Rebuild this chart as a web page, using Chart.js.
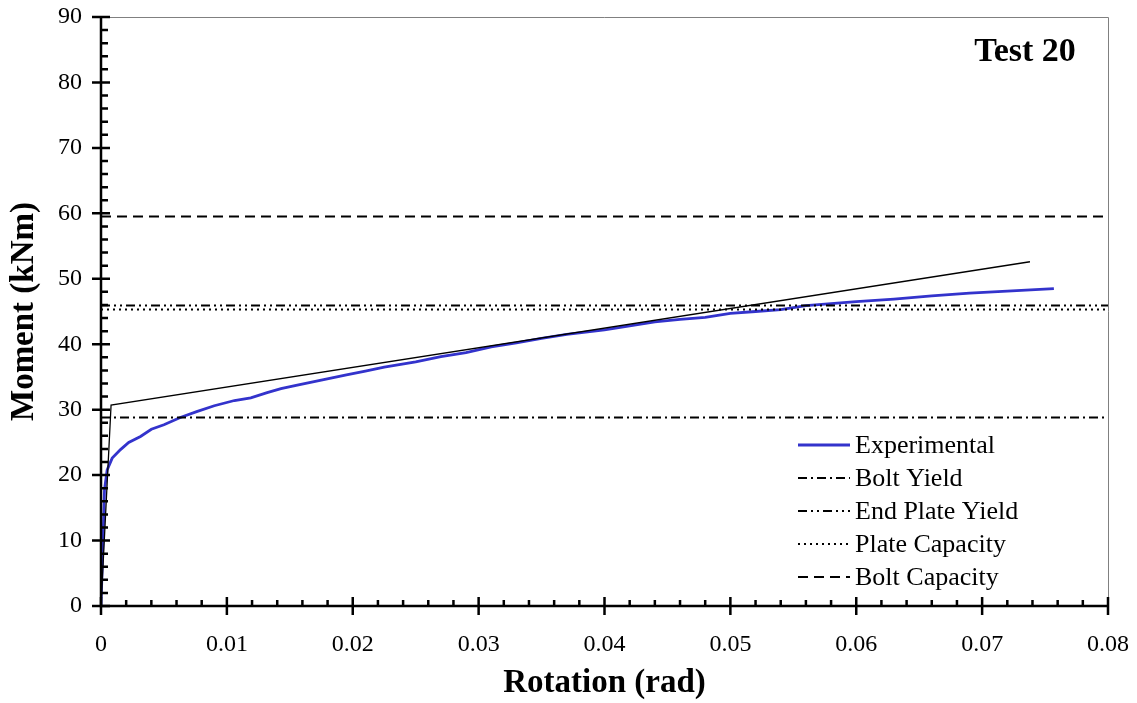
<!DOCTYPE html>
<html>
<head>
<meta charset="utf-8">
<script src="https://cdn.jsdelivr.net/npm/chart.js@4.4.1/dist/chart.umd.min.js"></script>
<style>
  html, body { margin: 0; padding: 0; background: #fff; }
  #wrap { width: 1137px; height: 703px; position: relative; }
</style>
</head>
<body>
<div id="wrap"><canvas id="momentChart"></canvas></div>
<script>
// Test 20 - moment vs rotation
const expRotation = [0, 0.00028, 0.00049, 0.00089, 0.00155, 0.0022, 0.00314, 0.0040, 0.0050, 0.0063,
  0.0076, 0.0090, 0.0106, 0.0119, 0.0132, 0.0143, 0.0155, 0.0175, 0.0195, 0.021, 0.0225, 0.025,
  0.027, 0.029, 0.031, 0.033, 0.035, 0.037, 0.040, 0.042, 0.044, 0.046, 0.048, 0.050, 0.052,
  0.054, 0.056, 0.058, 0.060, 0.063, 0.066, 0.069, 0.072, 0.0757];
const expMoment = [0, 17.8, 20.8, 22.6, 23.9, 25.0, 25.9, 27.0, 27.7, 28.8,
  29.7, 30.6, 31.4, 31.8, 32.6, 33.2, 33.7, 34.5, 35.3, 35.9, 36.5, 37.3,
  38.1, 38.7, 39.6, 40.2, 40.9, 41.5, 42.2, 42.8, 43.4, 43.8, 44.1, 44.7, 45.0,
  45.3, 45.9, 46.2, 46.5, 46.9, 47.4, 47.8, 48.1, 48.5];

// bilinear model
const modelRotation = [0, 0.0008, 0.0738];
const modelMoment = [0, 30.7, 52.6];

// predicted levels (kNm)
const boltYield = 28.8;
const endPlateYield = 45.9;
const plateCapacity = 45.3;
const boltCapacity = 59.5;

const xTicks = [0, 0.01, 0.02, 0.03, 0.04, 0.05, 0.06, 0.07, 0.08];
const xTickLabels = ['0', '0.01', '0.02', '0.03', '0.04', '0.05', '0.06', '0.07', '0.08'];
const yTicks = [0, 10, 20, 30, 40, 50, 60, 70, 80, 90];
const legendOrder = ['Experimental', 'Bolt Yield', 'End Plate Yield', 'Plate Capacity', 'Bolt Capacity'];

const X_MIN = xTicks[0], X_MAX = xTicks[xTicks.length - 1];
const serif = "'Liberation Serif', 'Times New Roman', serif";

const toPoints = (xs, ys) => xs.map((x, i) => ({ x: x, y: ys[i] }));
const level = v => [{ x: X_MIN, y: v }, { x: X_MAX, y: v }];

// axis lines, major/minor tick marks and plot frame
const axesPlugin = {
  id: 'axesPlugin',
  afterDraw(chart) {
    const { ctx, chartArea: a, scales: { x, y } } = chart;
    ctx.save();
    ctx.strokeStyle = '#808080';
    ctx.lineWidth = 1;
    ctx.beginPath();
    ctx.moveTo(a.left, a.top + 0.5);
    ctx.lineTo(a.right + 0.5, a.top + 0.5);
    ctx.lineTo(a.right + 0.5, a.bottom);
    ctx.stroke();

    ctx.strokeStyle = '#000';
    ctx.lineWidth = 2.5;
    ctx.beginPath();
    ctx.moveTo(a.left, a.top);
    ctx.lineTo(a.left, a.bottom);
    ctx.lineTo(a.right, a.bottom);
    ctx.stroke();

    ctx.beginPath();
    // x ticks, 5 minor steps per major
    for (let i = 0; i < xTicks.length; i++) {
      const px = x.getPixelForValue(xTicks[i]);
      ctx.moveTo(px, a.bottom - 9);
      ctx.lineTo(px, a.bottom + 9);
      if (i < xTicks.length - 1) {
        const step = (xTicks[i + 1] - xTicks[i]) / 5;
        for (let k = 1; k < 5; k++) {
          const mx = x.getPixelForValue(xTicks[i] + step * k);
          ctx.moveTo(mx, a.bottom - 6);
          ctx.lineTo(mx, a.bottom);
        }
      }
    }
    // y ticks
    for (let i = 0; i < yTicks.length; i++) {
      const py = y.getPixelForValue(yTicks[i]);
      ctx.moveTo(a.left - 9, py);
      ctx.lineTo(a.left + 9, py);
      if (i < yTicks.length - 1) {
        const step = (yTicks[i + 1] - yTicks[i]) / 5;
        for (let k = 1; k < 5; k++) {
          const my = y.getPixelForValue(yTicks[i] + step * k);
          ctx.moveTo(a.left, my);
          ctx.lineTo(a.left + 7, my);
        }
      }
    }
    ctx.stroke();
    ctx.restore();
  }
};

// legend and test caption
const legendPlugin = {
  id: 'legendPlugin',
  afterDraw(chart, args, opts) {
    const { ctx, chartArea: a } = chart;
    ctx.save();
    ctx.font = 'bold 34px ' + serif;
    ctx.fillStyle = '#000';
    ctx.textAlign = 'center';
    ctx.textBaseline = 'middle';
    ctx.fillText(opts.caption, a.right - 83, a.top + 35);

    ctx.font = '26px ' + serif;
    ctx.textAlign = 'left';
    legendOrder.forEach((name, row) => {
      const ds = chart.data.datasets.find(d => d.label === name);
      const yy = opts.top + row * opts.rowGap;
      ctx.strokeStyle = ds.borderColor;
      ctx.lineWidth = ds.borderWidth;
      ctx.setLineDash(ds.borderDash || []);
      ctx.beginPath();
      ctx.moveTo(opts.left, yy);
      ctx.lineTo(opts.left + 52, yy);
      ctx.stroke();
      ctx.setLineDash([]);
      ctx.fillStyle = '#000';
      ctx.fillText(ds.label, opts.left + 57, yy + 1);
    });
    ctx.restore();
  }
};

const ctx = document.getElementById('momentChart').getContext('2d');
new Chart(ctx, {
  type: 'scatter',
  data: {
    datasets: [
      { label: 'Bolt Capacity', data: level(boltCapacity), showLine: true, borderColor: '#000', borderWidth: 2, borderDash: [10, 6], pointRadius: 0 },
      { label: 'Plate Capacity', data: level(plateCapacity), showLine: true, borderColor: '#000', borderWidth: 2, borderDash: [2, 4], pointRadius: 0 },
      { label: 'End Plate Yield', data: level(endPlateYield), showLine: true, borderColor: '#000', borderWidth: 2, borderDash: [9, 4, 2, 4, 2, 4], pointRadius: 0 },
      { label: 'Bolt Yield', data: level(boltYield), showLine: true, borderColor: '#000', borderWidth: 2, borderDash: [9, 4, 2, 4], pointRadius: 0 },
      { label: 'Model', data: toPoints(modelRotation, modelMoment), showLine: true, borderColor: '#000', borderWidth: 1.3, pointRadius: 0 },
      { label: 'Experimental', data: toPoints(expRotation, expMoment), showLine: true, borderColor: '#3333cc', borderWidth: 2.8, pointRadius: 0 }
    ]
  },
  options: {
    animation: false,
    responsive: true,
    maintainAspectRatio: false,
    layout: { padding: { top: 17, right: 29, left: 0, bottom: 0 } },
    plugins: {
      legend: { display: false },
      tooltip: { enabled: false },
      legendPlugin: { caption: 'Test 20', left: 798, top: 445, rowGap: 33 }
    },
    scales: {
      x: {
        type: 'linear',
        min: X_MIN,
        max: X_MAX,
        grid: { display: false, drawTicks: false },
        border: { display: false },
        afterBuildTicks: s => { s.ticks = xTicks.map(v => ({ value: v })); },
        afterFit: s => { s.height = 97; s.paddingLeft = 0; s.paddingRight = 0; },
        ticks: {
          color: '#000',
          padding: 24,
          maxRotation: 0,
          font: { family: serif, size: 24 },
          callback: (v, i) => xTickLabels[i]
        },
        title: {
          display: true,
          text: 'Rotation (rad)',
          color: '#000',
          font: { family: serif, size: 33, weight: 'bold' },
          padding: { top: 0, bottom: 0 }
        }
      },
      y: {
        min: yTicks[0],
        max: yTicks[yTicks.length - 1],
        grid: { display: false, drawTicks: false },
        border: { display: false },
        afterBuildTicks: s => { s.ticks = yTicks.map(v => ({ value: v })); },
        afterFit: s => { s.width = 101; s.paddingTop = 0; s.paddingBottom = 0; },
        ticks: {
          color: '#000',
          padding: 19,
          font: { family: serif, size: 24 }
        },
        title: {
          display: true,
          text: 'Moment (kNm)',
          color: '#000',
          font: { family: serif, size: 33, weight: 'bold' },
          padding: { top: 5, bottom: 0 }
        }
      }
    }
  },
  plugins: [axesPlugin, legendPlugin]
});
</script>
</body>
</html>
